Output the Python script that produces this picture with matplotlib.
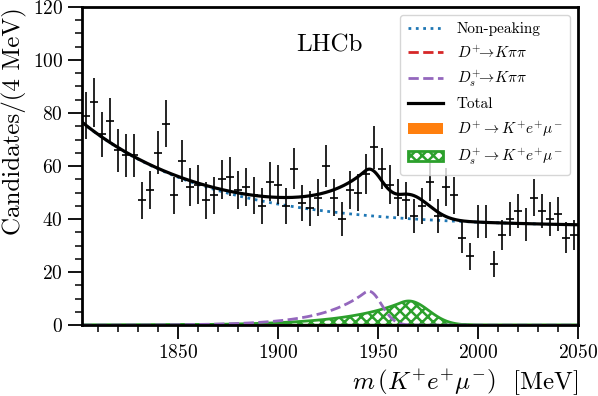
import numpy as np
import matplotlib
matplotlib.use('Agg')
import matplotlib.pyplot as plt

plt.rcParams['font.family'] = 'serif'
plt.rcParams['font.serif'] = ['cmr10']
plt.rcParams['mathtext.fontset'] = 'cm'
plt.rcParams['axes.formatter.use_mathtext'] = True
plt.rcParams['hatch.linewidth'] = 1.8

## binned data, 4 MeV bins from 1802 to 2050
bin_lo, bin_hi, bin_w = 1802, 2050, 4
counts = [79, 84, 72, 77, 66, 64, 64, 47, 51, 65, 76, 49, 62, 52, 53, 47,
          49, 55, 56, 51, 52, 49, 45, 54, 53, 45, 59, 46, 44, 48, 60, 48,
          40, 51, 50, 57, 67, 59, 53, 48, 47, 41, 45, 54, 41, 52, 49, 33,
          26, 39, 39, 23, 34, 40, 43, 38, 48, 43, 40, 42, 33, 34]

## fit components
# non-peaking: const + exponential
bkg_const, bkg_amp, bkg_slope = 37.0, 39.6, 0.0155
# D_s -> K pi pi misID: gaussian core with exponential low-mass tail
dsk_peak, dsk_mu, dsk_sig, dsk_k = 12.8, 1945.5, 6.4, 0.30
# D+ -> K pi pi misID (no yield)
dpk_peak, dpk_mu, dpk_sig, dpk_k = 0.0, 1925.0, 6.4, 0.30
# D_s -> K e mu signal
dss_peak, dss_mu, dss_sig, dss_k = 9.1, 1965.5, 10.0, 0.36
# D+ -> K e mu signal (no yield)
dps_peak, dps_mu, dps_sig, dps_k = 0.0, 1869.0, 10.0, 0.36


def gauss_exp(m, peak, mu, sig, k):
    t = (m - mu) / sig
    return peak * np.where(t > -k, np.exp(-0.5 * t**2), np.exp(0.5 * k**2 + k * t))


edges = np.arange(bin_lo, bin_hi + bin_w, bin_w)
centres = 0.5 * (edges[1:] + edges[:-1])
y = np.array(counts, dtype=float)

m = np.linspace(bin_lo, bin_hi, 1000)
bkg = bkg_const + bkg_amp * np.exp(-bkg_slope * (m - bin_lo))
dsk = gauss_exp(m, dsk_peak, dsk_mu, dsk_sig, dsk_k)
dpk = gauss_exp(m, dpk_peak, dpk_mu, dpk_sig, dpk_k)
dss = gauss_exp(m, dss_peak, dss_mu, dss_sig, dss_k)
dps = gauss_exp(m, dps_peak, dps_mu, dps_sig, dps_k)
total = bkg + dsk + dpk + dss + dps

fig = plt.figure(figsize=(5.98, 3.96), dpi=100)
ax = fig.add_axes([0.1366, 0.179, 0.8294, 0.8035])

ax.errorbar(centres, y, xerr=bin_w / 2., yerr=np.sqrt(y), fmt='none',
            ecolor='k', elinewidth=1.2, capsize=0, zorder=4)

l_bkg, = ax.plot(m, bkg, ':', color='tab:blue', lw=2, label='Non-peaking')
l_dpk, = ax.plot(m, dpk, '--', color='tab:red', lw=2,
                 label=r'$D^{+}\!\!\to\! K\pi\pi$')
l_dsk, = ax.plot(m, dsk, '--', color='tab:purple', lw=2,
                 label=r'$D_s^{+}\!\!\to\! K\pi\pi$')
l_tot, = ax.plot(m, total, '-', color='k', lw=2.3, label='Total', zorder=3)
f_dps = ax.fill_between(m, 0, dps, color='tab:orange', lw=0,
                        label=r'$D^{+}\to K^{+}e^{+}\mu^{-}$')
f_dss = ax.fill_between(m, 0, dss, facecolor='none', edgecolor='tab:green',
                        hatch='xxx', lw=2,
                        label=r'$D_s^{+}\to K^{+}e^{+}\mu^{-}$')

ax.set_xlim(bin_lo, bin_hi)
ax.set_ylim(0, 120)
ax.set_xticks([1850, 1900, 1950, 2000, 2050])
ax.set_xticks(np.arange(1810, 2050, 10), minor=True)
ax.set_yticks(np.arange(0, 121, 20))
ax.set_yticks(np.arange(0, 121, 5), minor=True)
ax.tick_params(which='major', length=10, width=1.3, labelsize=14)
ax.tick_params(which='minor', length=5, width=1.1)
for s in ax.spines.values():
    s.set_linewidth(2)

ax.set_xlabel(r'$m\,\left(K^{+}e^{+}\mu^{-}\right)\ $ [MeV]', fontsize=18,
              loc='right')
ax.set_ylabel('Candidates/(4 MeV)', fontsize=18, loc='top')

ax.text(0.5, 0.88, 'LHCb', transform=ax.transAxes, fontsize=18,
        ha='center', va='center')

ax.legend(handles=[l_bkg, l_dpk, l_dsk, l_tot, f_dps, f_dss],
          loc='upper right', fontsize=11, handlelength=2.3,
          labelspacing=0.55, handletextpad=0.9, borderpad=0.5)

fig.savefig('out.png', dpi=100)
